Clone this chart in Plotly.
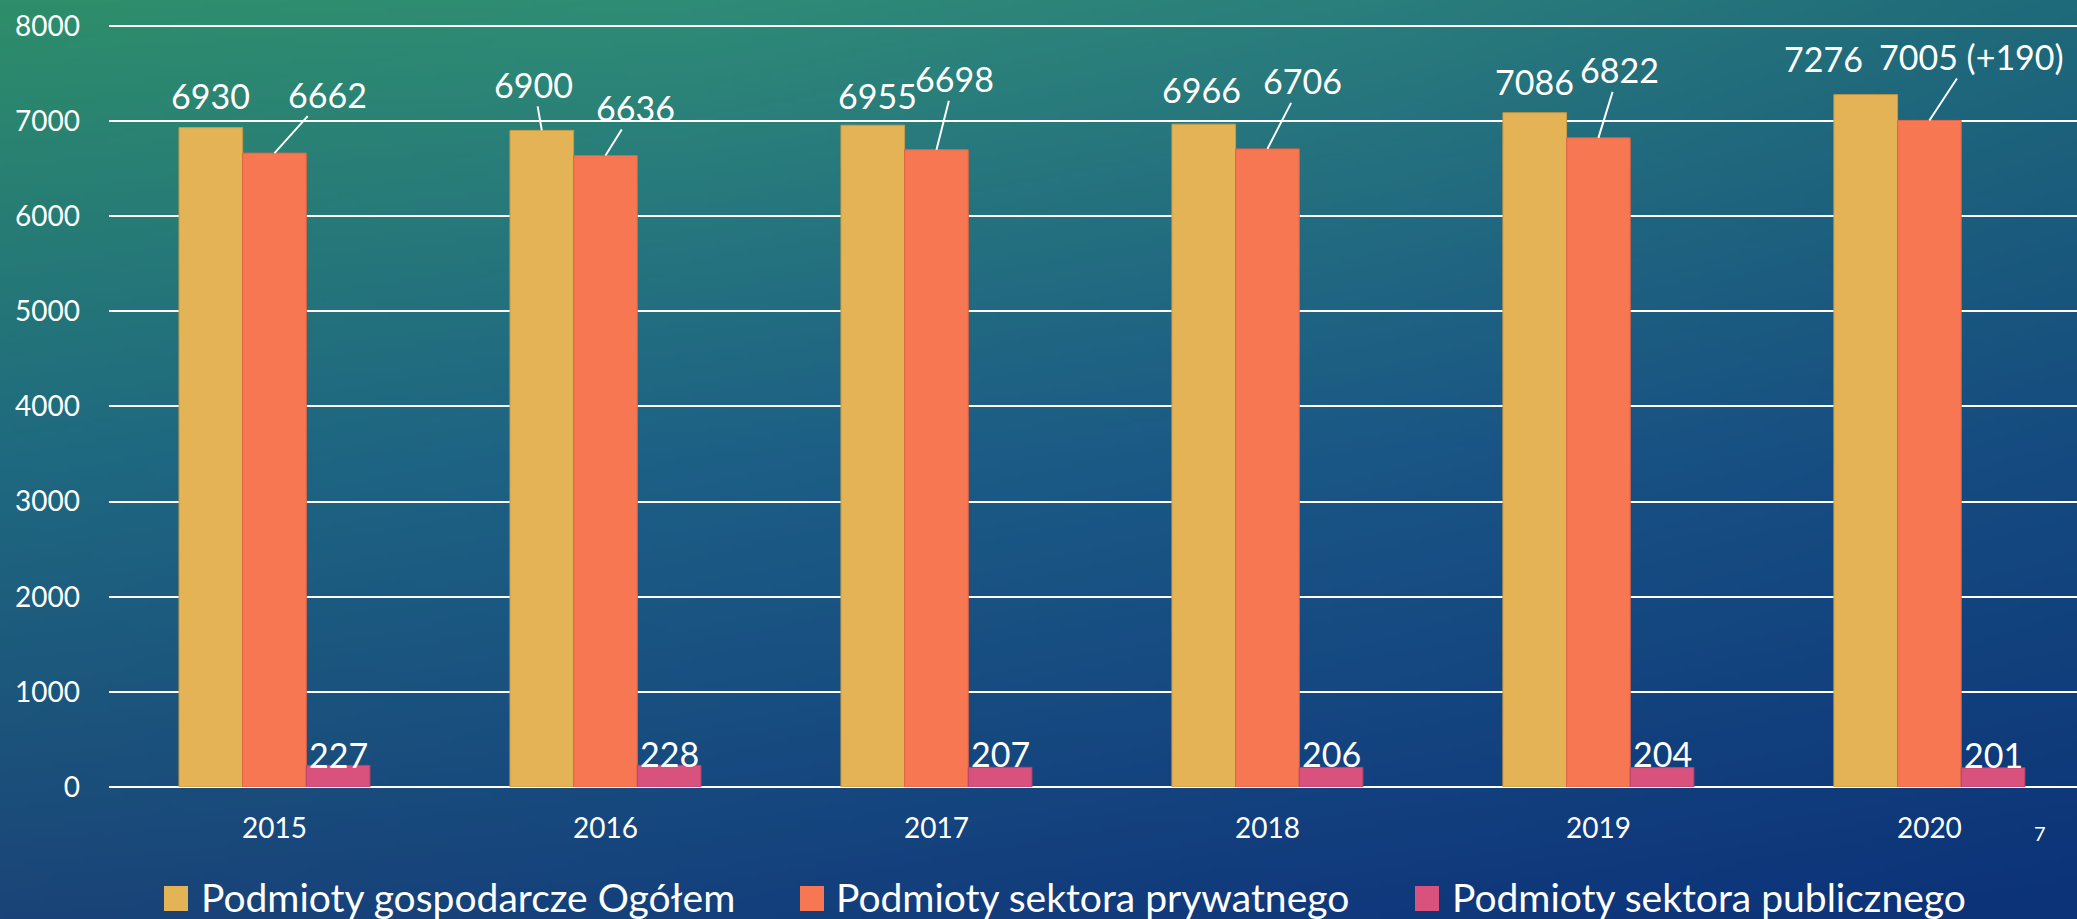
import base64
import struct
import zlib

import numpy as np
import plotly.graph_objects as go

# ---------------- data ----------------
years = ["2015", "2016", "2017", "2018", "2019", "2020"]
series_names = [
    "Podmioty gospodarcze Ogółem",
    "Podmioty sektora prywatnego",
    "Podmioty sektora publicznego",
]
ogolem = [6930, 6900, 6955, 6966, 7086, 7276]
prywatny = [6662, 6636, 6698, 6706, 6822, 7005]
publiczny = [227, 228, 207, 206, 204, 201]
prywatny_labels = ["6662", "6636", "6698", "6706", "6822", "7005 (+190)"]
y_ticks = [0, 1000, 2000, 3000, 4000, 5000, 6000, 7000, 8000]
page_number = "7"

# ---------------- styles / layout ----------------
W, H = 2077, 919
ML, MR, MT, MB = 109, 0, 21, 132
PW, PH = W - ML - MR, H - MT - MB
XR = [-0.5, 5.446]
YR = [0, 8050]
BARGAP = 0.423
colors = ["#E4B356", "#F77753", "#D9527E"]
edge_colors = ["#C99A45", "#DD6444", "#B9436A"]
FONT = "Lato"

# label offsets in pixels (dx, dy) relative to bar top-centre, and whether a leader line is drawn
gold_off = [(0, -32), (-8, -46), (5, -30), (-2, -35), (0, -31), (-42, -36)]
gold_line = [False, True, False, False, False, False]
orange_off = [(53, -59), (30, -48), (18, -71), (35, -68), (21, -68), (42, -64)]
pink_off = [(0, -11), (0, -12), (0, -14), (0, -14), (0, -14), (0, -13)]

# background gradient (rows top->bottom, columns left->right)
bg_grid = np.array([
    [[46, 142, 106], [47, 140, 118], [42, 126, 124], [31, 106, 122]],
    [[31, 106, 128], [29, 96, 134], [26, 86, 134], [21, 74, 128]],
    [[26, 68, 120], [20, 64, 124], [16, 56, 124], [12, 50, 120]],
], dtype=float)


def gradient_png(w, h):
    gy, gx = bg_grid.shape[0], bg_grid.shape[1]
    ys = np.linspace(0, gy - 1, h)
    xs = np.linspace(0, gx - 1, w)
    img = np.zeros((h, w, 3))
    rows = np.zeros((gy, w, 3))
    for r in range(gy):
        for c in range(3):
            rows[r, :, c] = np.interp(xs, np.arange(gx), bg_grid[r, :, c])
    for c in range(3):
        for i in range(w):
            img[:, i, c] = np.interp(ys, np.arange(gy), rows[:, i, c])
    arr = np.clip(img, 0, 255).astype(np.uint8)
    raw = b"".join(b"\x00" + arr[y].tobytes() for y in range(h))

    def chunk(t, d):
        return struct.pack(">I", len(d)) + t + d + struct.pack(">I", zlib.crc32(t + d) & 0xFFFFFFFF)

    png = (b"\x89PNG\r\n\x1a\n"
           + chunk(b"IHDR", struct.pack(">IIBBBBB", w, h, 8, 2, 0, 0, 0))
           + chunk(b"IDAT", zlib.compress(raw, 9))
           + chunk(b"IEND", b""))
    return "data:image/png;base64," + base64.b64encode(png).decode()


fig = go.Figure()
for name, vals, col, ecol in zip(series_names, [ogolem, prywatny, publiczny], colors, edge_colors):
    fig.add_trace(go.Bar(
        x=years, y=vals, name=name,
        marker=dict(color=col, line=dict(color=ecol, width=1)),
        showlegend=False, hoverinfo="x+y",
    ))

px_per_cat = PW / (XR[1] - XR[0])
bar_w = px_per_cat * (1 - BARGAP) / 3

annotations = []
label_font = dict(family=FONT, size=34, color="white")


def add_label(xi, y, text, dx, dy, shift, line):
    annotations.append(dict(
        x=xi, y=y, xref="x", yref="y", text=text, font=label_font,
        showarrow=True, arrowhead=0, arrowwidth=2,
        arrowcolor="white" if line else "rgba(0,0,0,0)",
        ax=dx, ay=dy, xshift=shift, standoff=0,
    ))


for i in range(len(years)):
    add_label(i, ogolem[i], str(ogolem[i]), gold_off[i][0], gold_off[i][1], -bar_w, gold_line[i])
    add_label(i, prywatny[i], prywatny_labels[i], orange_off[i][0], orange_off[i][1], 0, True)
    add_label(i, publiczny[i], str(publiczny[i]), pink_off[i][0], pink_off[i][1], bar_w, False)

# legend (keys + text), positioned in pixels below the plot
legend_key_x = [164, 800, 1415]
legend_text_x = [199, 834, 1450]
key_top, key_bot = 886, 911
shapes = []


def px2paper_x(p):
    return (p - ML) / PW


def px2paper_y(p):
    return (MT + PH - p) / PH


for name, col, kx, tx in zip(series_names, colors, legend_key_x, legend_text_x):
    shapes.append(dict(
        type="rect", xref="paper", yref="paper",
        x0=px2paper_x(kx), x1=px2paper_x(kx + 24),
        y0=px2paper_y(key_bot), y1=px2paper_y(key_top),
        fillcolor=col, line=dict(width=0), layer="above",
    ))
    annotations.append(dict(
        x=px2paper_x(tx), y=px2paper_y(897), xref="paper", yref="paper",
        xanchor="left", yanchor="middle", text=name, showarrow=False,
        font=dict(family=FONT, size=39, color="white"),
    ))

annotations.append(dict(
    x=px2paper_x(2040), y=px2paper_y(833), xref="paper", yref="paper",
    xanchor="center", yanchor="middle", text=page_number, showarrow=False,
    font=dict(family=FONT, size=20, color="white"),
))

fig.update_layout(
    width=W, height=H,
    margin=dict(l=ML, r=MR, t=MT, b=MB, pad=0),
    paper_bgcolor="#1B5585", plot_bgcolor="rgba(0,0,0,0)",
    barmode="group", bargap=BARGAP, bargroupgap=0,
    font=dict(family=FONT, color="white"),
    annotations=annotations, shapes=shapes,
    images=[dict(
        source=gradient_png(416, 184), xref="paper", yref="paper",
        x=-ML / PW, y=1 + MT / PH, sizex=W / PW, sizey=H / PH,
        xanchor="left", yanchor="top", sizing="stretch", layer="below",
    )],
    xaxis=dict(
        type="category", range=XR, showgrid=False, zeroline=False, showline=False,
        tickfont=dict(family=FONT, size=28, color="white"),
        ticks="", ticklabelstandoff=22, fixedrange=True,
    ),
    yaxis=dict(
        range=YR, tickvals=y_ticks, showgrid=True, gridcolor="white", gridwidth=2,
        zeroline=True, zerolinecolor="white", zerolinewidth=2, showline=False,
        tickfont=dict(family=FONT, size=28, color="white"),
        ticks="", ticklabelstandoff=28, fixedrange=True,
    ),
    showlegend=False,
)

fig.write_html(
    "out.html",
    config={"displayModeBar": False},
    post_script="document.body.style.margin='0';document.body.style.overflow='hidden';",
)
